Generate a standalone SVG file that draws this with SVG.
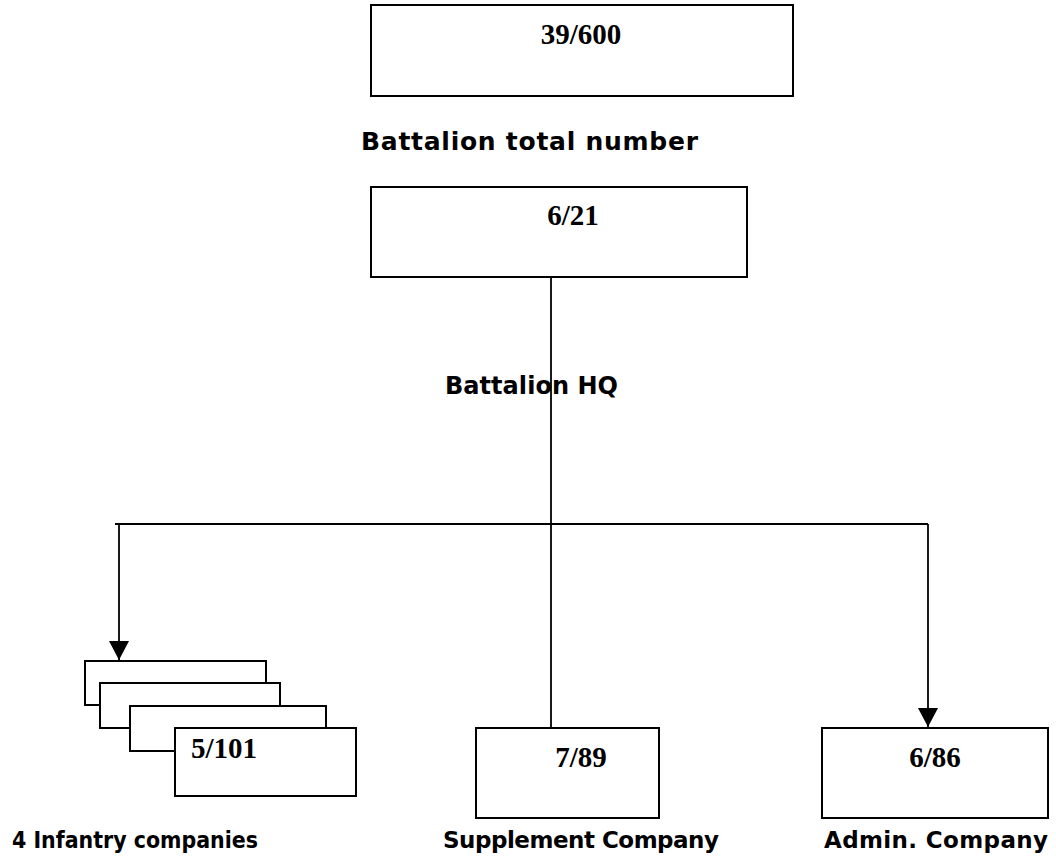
<svg xmlns="http://www.w3.org/2000/svg" width="1056" height="861" viewBox="0 0 1056 861">
<style>
.box{fill:#fff;stroke:#000;stroke-width:2}
.num{font-family:"Liberation Serif","Times New Roman",serif;font-weight:bold;font-size:29px;fill:#000}
.lbl{font-family:"DejaVu Sans",Verdana,sans-serif;font-weight:bold;fill:#000}
.con{fill:none;stroke:#000;stroke-width:1.8}
</style>
<defs>
<marker id="arr" markerUnits="userSpaceOnUse" markerWidth="20" markerHeight="20" refX="19" refY="10" orient="auto">
<path d="M0,0 L19,10 L0,20 Z" fill="#000"/>
</marker>
</defs>
<rect width="1056" height="861" fill="#fff"/>
<g id="total">
<rect class="box" x="371" y="5" width="422" height="91"/>
<text class="num" x="581" y="44" text-anchor="middle">39/600</text>
<text class="lbl" x="361" y="150" font-size="25" textLength="337" lengthAdjust="spacing">Battalion total number</text>
</g>
<g id="hq">
<rect class="box" x="371" y="187" width="376" height="90"/>
<text class="num" x="573" y="225" text-anchor="middle">6/21</text>
<text class="lbl" x="445" y="394" font-size="24" textLength="173" lengthAdjust="spacing">Battalion HQ</text>
</g>
<g id="infantry">
<rect class="box" x="85" y="661" width="181" height="44"/>
<rect class="box" x="100" y="683" width="180" height="45"/>
<rect class="box" x="130" y="706" width="196" height="45"/>
<rect class="box" x="175" y="728" width="181" height="68"/>
<text class="num" x="191" y="758">5/101</text>
<text class="lbl" x="12" y="848" font-size="23" textLength="246" lengthAdjust="spacingAndGlyphs">4 Infantry companies</text>
</g>
<g id="supplement">
<rect class="box" x="476" y="728" width="183" height="90"/>
<text class="num" x="581" y="767" text-anchor="middle">7/89</text>
<text class="lbl" x="443" y="848" font-size="23" textLength="276" lengthAdjust="spacing">Supplement Company</text>
</g>
<g id="admin">
<rect class="box" x="822" y="728" width="226" height="90"/>
<text class="num" x="935" y="767" text-anchor="middle">6/86</text>
<text class="lbl" x="824" y="848" font-size="23" textLength="224" lengthAdjust="spacing">Admin. Company</text>
</g>
<g id="connectors">
<line class="con" x1="551" y1="277" x2="551" y2="728"/>
<line class="con" x1="115" y1="524" x2="928" y2="524"/>
<line class="con" x1="119" y1="524" x2="119" y2="660" marker-end="url(#arr)"/>
<line class="con" x1="928" y1="524" x2="928" y2="727" marker-end="url(#arr)"/>
</g>
</svg>
